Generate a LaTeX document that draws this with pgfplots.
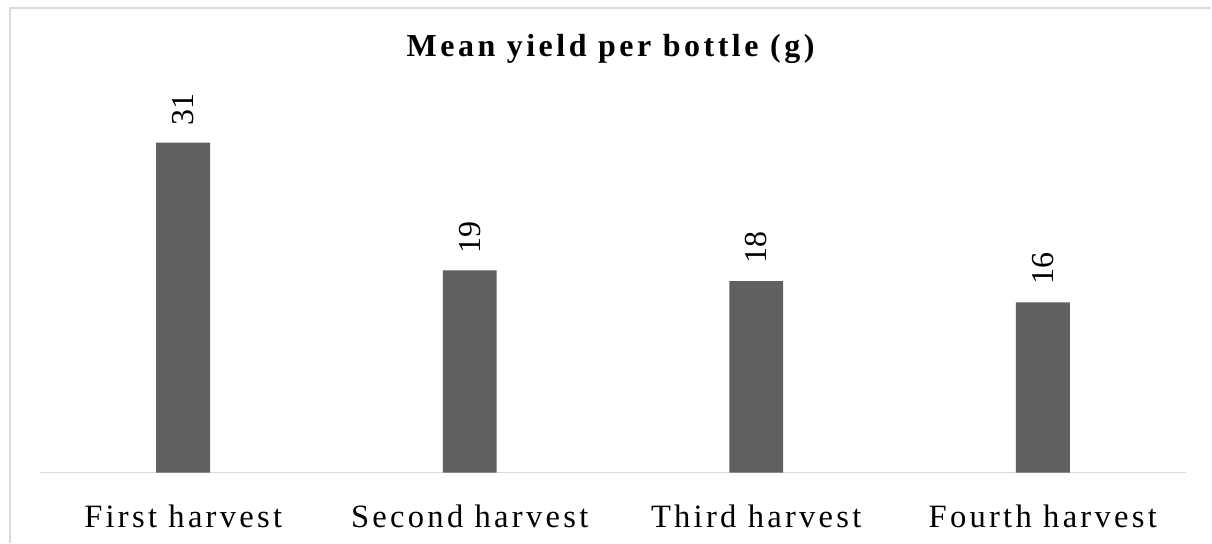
\documentclass[border=0pt]{standalone}
\usepackage{fontspec}
\setmainfont{Liberation Serif}
\newfontfamily\tickfont[LetterSpace=10]{Liberation Serif}
\newfontfamily\titlefont[LetterSpace=11]{Liberation Serif}
\usepackage{pgfplots}
\pgfplotsset{compat=1.18}
\definecolor{barc}{HTML}{606060}
\definecolor{linec}{HTML}{D9D9D9}
\begin{document}
\begin{tikzpicture}[x=1pt,y=1pt]
\path (0,0) rectangle (606,271.5);
\draw[linec, line width=1pt] (5.25,0) -- (5.25,267.5) -- (606,267.5);
\node[anchor=base, inner sep=0pt, font=\titlefont\bfseries\fontsize{16}{19}\selectfont] at (305.5,243) {Mean yield per bottle (g)};
\begin{axis}[
  at={(20pt,35pt)}, anchor=south west,
  scale only axis, width=573.5pt, height=186.375pt,
  xmin=-0.5, xmax=3.5, ymin=0, ymax=35,
  axis y line=none, axis x line*=bottom,
  x axis line style={linec, line width=0.75pt, -},
  xtick=data, major tick length=0pt,
  xticklabels={First harvest, Second harvest, Third harvest, Fourth harvest},
  xticklabel style={font=\tickfont\fontsize{16.3}{19}\selectfont, anchor=base, yshift=-27.5pt, inner sep=0pt},
  ytick=\empty,
  ybar, bar width=27pt,
  /pgf/number format/assume math mode=true,
  nodes near coords,
  nodes near coords style={rotate=90, anchor=west, font=\fontsize{16}{19}\selectfont, inner xsep=8.5pt, inner ysep=0pt, text=black},
  clip=false,
]
\addplot[fill=barc, draw=none] coordinates {(0,31) (1,19) (2,18) (3,16)};
\end{axis}
\end{tikzpicture}
\end{document}
